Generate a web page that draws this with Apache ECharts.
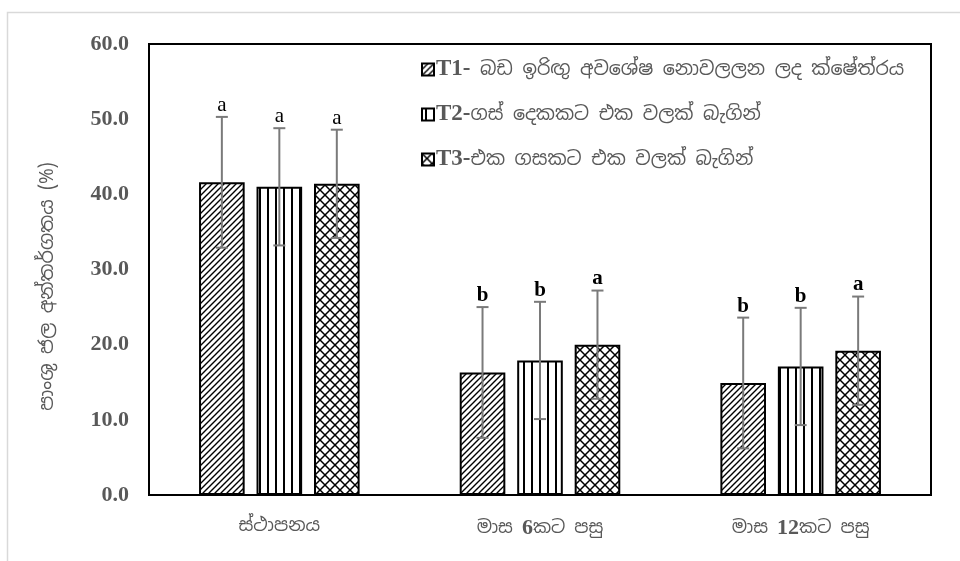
<!DOCTYPE html>
<html>
<head>
<meta charset="utf-8">
<script src="https://cdn.jsdelivr.net/npm/echarts@6/dist/echarts.min.js"></script>
<style>html,body{margin:0;padding:0;background:#fff;}#c{width:960px;height:561px;}</style>
</head>
<body>
<div id="c"></div>
<script>
const categories = ['ස්ථාපනය', 'මාස 6කට පසු', 'මාස 12කට පසු'];
const seriesNames = ['T1- බඩ ඉරිඟු අවශේෂ නොවලලන ලද ක්ෂේත්රය', 'T2-ගස් දෙකකට එක වලක් බැගින්', 'T3-එක ගසකට එක වලක් බැගින්'];
const t1 = [41.6, 16.3, 14.9];
const t2 = [41.0, 17.9, 17.1];
const t3 = [41.4, 20.0, 19.2];
const t1Err = [8.7, 8.7, 8.7];
const t2Err = [7.8, 7.8, 7.8];
const t3Err = [7.2, 7.2, 7.2];
const t1Letters = ['a', 'b', 'b'];
const t2Letters = ['a', 'b', 'b'];
const t3Letters = ['a', 'a', 'a'];
const yTicks = [0, 10, 20, 30, 40, 50, 60];
const yTitle = 'පාංශු ජල අන්තර්ගතය (%)';

function makeTile(w, h, draw) {
  const c = document.createElement('canvas');
  c.width = w; c.height = h;
  const ctx = c.getContext('2d');
  ctx.fillStyle = '#fff'; ctx.fillRect(0, 0, w, h);
  ctx.strokeStyle = '#000'; ctx.fillStyle = '#000';
  draw(ctx);
  return c;
}
const diagTile = makeTile(6, 6, ctx => {
  ctx.lineWidth = 1.4;
  ctx.beginPath();
  ctx.moveTo(-1, 7); ctx.lineTo(7, -1);
  ctx.moveTo(-4, 4); ctx.lineTo(4, -4);
  ctx.moveTo(2, 10); ctx.lineTo(10, 2);
  ctx.stroke();
});
const vertTile = makeTile(8, 4, ctx => { ctx.fillRect(3, 0, 2, 4); });
const crossTile = makeTile(10, 10, ctx => {
  ctx.lineWidth = 1.5;
  ctx.beginPath();
  ctx.moveTo(0, 0); ctx.lineTo(10, 10);
  ctx.moveTo(0, 10); ctx.lineTo(10, 0);
  ctx.stroke();
});
const tiles = [diagTile, vertTile, crossTile];
const values = [t1, t2, t3];
const errs = [t1Err, t2Err, t3Err];
const letters = [t1Letters, t2Letters, t3Letters];

const BAR_W = 0.175, GAP = 0.26;
const groupW = 3 * BAR_W + 2 * BAR_W * GAP;
function offsetFor(i) { return -groupW / 2 + BAR_W / 2 + i * (BAR_W + BAR_W * GAP); }

const series = [];
for (let s = 0; s < 3; s++) {
  series.push({
    name: seriesNames[s],
    type: 'bar',
    barWidth: (BAR_W * 100) + '%',
    barGap: (GAP * 100) + '%',
    data: values[s],
    itemStyle: { color: { image: tiles[s], repeat: 'repeat' }, borderColor: '#000', borderWidth: 2 },
    z: 2
  });
}
for (let s = 0; s < 3; s++) {
  const off = offsetFor(s);
  const bold = [false, true, true];
  series.push({
    type: 'custom',
    name: 'err' + s,
    z: 5,
    silent: true,
    data: values[s].map((v, i) => [i, v, errs[s][i]]),
    renderItem: function (params, api) {
      const xi = api.value(0), v = api.value(1), e = api.value(2);
      const band = api.size([1, 0])[0];
      const x = api.coord([xi, v])[0] + off * band;
      const yTop = api.coord([xi, v + e])[1];
      const yBot = api.coord([xi, v - e])[1];
      const cap = 6;
      const st = { stroke: '#7a7a7a', lineWidth: 2 };
      return {
        type: 'group',
        children: [
          { type: 'line', shape: { x1: x, y1: yTop, x2: x, y2: yBot }, style: st },
          { type: 'line', shape: { x1: x - cap, y1: yTop, x2: x + cap, y2: yTop }, style: st },
          { type: 'line', shape: { x1: x - cap, y1: yBot, x2: x + cap, y2: yBot }, style: st },
          { type: 'text', x: x, y: yTop - 1, style: {
              text: letters[s][params.dataIndex], fill: '#000',
              font: (bold[params.dataIndex] ? 'bold ' : '') + '21px "Liberation Serif"',
              align: 'center', verticalAlign: 'bottom' } }
        ]
      };
    }
  });
}

const chart = echarts.init(document.getElementById('c'), null, { renderer: 'canvas' });
chart.setOption({
  animation: false,
  backgroundColor: '#fff',
  graphic: [{
    type: 'rect', left: 5, top: 10, silent: true,
    shape: { width: 1100, height: 700 },
    style: { fill: 'none', stroke: '#d9d9d9', lineWidth: 1.5 }, z: -10
  }],
  grid: { left: 149, top: 44, right: 29, bottom: 66, show: true, borderColor: '#000', borderWidth: 2, backgroundColor: 'transparent' },
  legend: {
    data: seriesNames,
    orient: 'vertical',
    left: 416, top: 53,
    itemWidth: 12, itemHeight: 12,
    itemGap: 22,
    icon: 'rect',
    selectedMode: false,
    formatter: function (name) {
      const k = name.indexOf('-');
      return '{b|' + name.slice(0, k + 1) + '}{s|' + name.slice(k + 1) + '}';
    },
    textStyle: {
      padding: [0, 0, 0, -3],
      rich: {
        b: { fontFamily: 'Liberation Serif', fontWeight: 'bold', fontSize: 23, color: '#595959', lineHeight: 25 },
        s: { fontFamily: 'Noto Sans Sinhala, Noto Sans, sans-serif', fontSize: 19, color: '#595959', lineHeight: 25 }
      }
    }
  },
  xAxis: {
    type: 'category',
    data: categories,
    axisTick: { show: false },
    axisLine: { lineStyle: { color: '#000', width: 2 } },
    axisLabel: {
      margin: 22,
      formatter: function (v) {
        const m = v.match(/^(\D*)(\d+)(.*)$/);
        if (!m) return '{s|' + v + '}';
        return '{s|' + m[1] + '}{n|' + m[2] + '}{s|' + m[3] + '}';
      },
      rich: {
        s: { fontFamily: 'Noto Sans Sinhala, Noto Sans, sans-serif', fontSize: 18, color: '#595959' },
        n: { fontFamily: 'Liberation Serif', fontWeight: 'bold', fontSize: 22, color: '#595959' }
      }
    }
  },
  yAxis: {
    type: 'value',
    min: yTicks[0], max: yTicks[yTicks.length - 1], interval: 10,
    splitLine: { show: false },
    axisTick: { show: false },
    axisLine: { show: true, lineStyle: { color: '#000', width: 2 } },
    axisLabel: {
      margin: 20,
      formatter: v => v.toFixed(1),
      fontFamily: 'Liberation Serif', fontWeight: 'bold', fontSize: 22, color: '#595959'
    },
    name: yTitle,
    nameLocation: 'middle',
    nameRotate: 90,
    nameGap: 92,
    nameTextStyle: { fontFamily: 'Noto Sans Sinhala, Noto Sans, sans-serif', fontSize: 19, color: '#595959', padding: [0, 34, 0, 0] }
  },
  series: series
});
</script>
</body>
</html>
